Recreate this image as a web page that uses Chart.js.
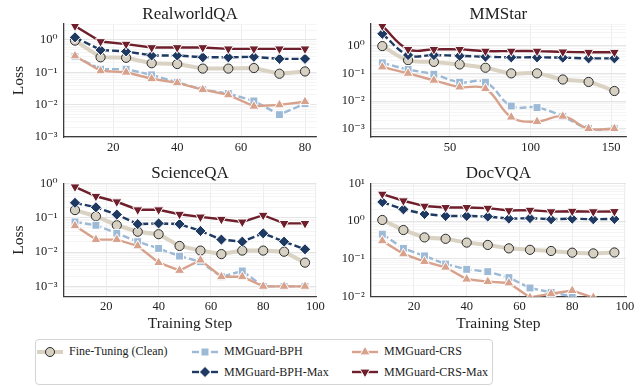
<!DOCTYPE html>
<html><head><meta charset="utf-8">
<script src="https://cdn.jsdelivr.net/npm/chart.js@4.4.1/dist/chart.umd.min.js"></script>
<style>
html,body{margin:0;padding:0;background:#fff;}
body{width:643px;height:386px;position:relative;overflow:hidden;font-family:'Liberation Serif','Times New Roman','DejaVu Serif',serif;}
canvas{position:absolute;}
#legendBox{position:absolute;left:35px;top:339px;width:458px;height:46px;border:1px solid #d4d4d4;border-radius:4px;box-sizing:border-box;background:#fff;}
.item{position:absolute;height:16px;display:flex;align-items:center;font-size:12px;color:#222;white-space:nowrap;}
.item svg{margin-right:6px;flex:none;}
</style></head>
<body>
<div id="legendBox"></div>
<script>
// ---------- data ----------
const steps8to80   = [8,16,24,32,40,48,56,64,72,80];
const stepsMMStar  = [8,24,40,56,72,88,104,120,136,152];
const steps8to96   = [8,16,24,32,40,48,56,64,72,80,88,96];

const seriesNames = ['Fine-Tuning (Clean)','MMGuard-BPH','MMGuard-CRS','MMGuard-BPH-Max','MMGuard-CRS-Max'];

// RealworldQA
const rwqaFT     = [0.95,0.29,0.28,0.19,0.18,0.13,0.13,0.135,0.09,0.106];
const rwqaBPH    = [0.31,0.125,0.125,0.083,0.049,0.029,0.022,0.013,0.0049,0.0107];
const rwqaCRS    = [0.32,0.11,0.10,0.063,0.047,0.029,0.020,0.0089,0.0098,0.0123];
const rwqaBPHMax = [1.2,0.49,0.44,0.33,0.33,0.29,0.29,0.30,0.26,0.26];
const rwqaCRSMax = [2.7,0.89,0.74,0.58,0.58,0.58,0.53,0.53,0.53,0.53];

// MMStar
const mmsFT     = [0.97,0.30,0.26,0.21,0.16,0.10,0.10,0.060,0.049,0.023];
const mmsBPH    = [0.24,0.138,0.093,0.048,0.048,0.0066,0.0058,0.0028,0.001,0.001];
const mmsCRS    = [0.17,0.10,0.056,0.032,0.028,0.0026,0.0018,0.0028,0.001,0.001];
const mmsBPHMax = [2.7,0.46,0.46,0.43,0.40,0.38,0.38,0.37,0.35,0.35];
const mmsCRSMax = [5.2,0.74,0.74,0.74,0.64,0.64,0.64,0.60,0.58,0.58];

// ScienceQA
const sqaFT     = [0.166,0.11,0.06,0.039,0.033,0.015,0.011,0.0087,0.011,0.011,0.0102,0.0049];
const sqaBPH    = [0.075,0.06,0.035,0.02,0.0127,0.0076,0.0052,0.0019,0.0028,0.001,0.001,0.001];
const sqaCRS    = [0.058,0.023,0.023,0.015,0.0049,0.0029,0.0058,0.0019,0.0019,0.001,0.001,0.001];
const sqaBPHMax = [0.27,0.2,0.123,0.065,0.068,0.065,0.041,0.023,0.02,0.035,0.02,0.012];
const sqaCRSMax = [0.79,0.42,0.29,0.17,0.17,0.126,0.105,0.09,0.075,0.118,0.068,0.068];

// DocVQA
const dvqaFT     = [1.07,0.58,0.37,0.34,0.27,0.234,0.19,0.174,0.162,0.146,0.14,0.148];
const dvqaBPH    = [0.45,0.19,0.12,0.073,0.053,0.046,0.032,0.017,0.013,0.0102,0.0075,0.0055];
const dvqaCRS    = [0.30,0.135,0.085,0.06,0.029,0.025,0.023,0.0095,0.012,0.0145,0.0095,0.006];
const dvqaBPHMax = [3.2,2.05,1.54,1.37,1.37,1.32,1.16,1.2,1.12,1.16,1.12,1.14];
const dvqaCRSMax = [5.2,3.46,2.5,2.3,2.3,2.2,1.9,1.95,1.78,1.83,1.78,1.8];

const xTicks20 = [20,40,60,80];
const xTicks20to100 = [20,40,60,80,100];
const xTicks50 = [50,100,150];

// ---------- styles ----------
const SERIF = "'Liberation Serif','Times New Roman','DejaVu Serif',serif";
const STYLE = [
  {line:'#dad2c3', fill:'#d7d1c3', edge:'#2a2a2a', lw:4,   dash:[],    shape:'circle',   r:4.6, ew:1,  order:5},
  {line:'#9cb9d6', fill:'#9cb9d6', edge:'#ffffff', lw:2.4, dash:[7,3], shape:'rect',     r:5.6, ew:1,  order:4},
  {line:'#d8a18b', fill:'#d8a18b', edge:'#ffffff', lw:2.4, dash:[],    shape:'triangle', r:5.8, ew:1,  order:3},
  {line:'#1e3a62', fill:'#1e3a62', edge:'#ffffff', lw:2.4, dash:[7,3], shape:'rectRot',  r:5.6, ew:1,  order:2},
  {line:'#6e1f2b', fill:'#6e1f2b', edge:'#ffffff', lw:2.4, dash:[],    shape:'triangle', r:5.8, ew:1,  order:1, rot:180}
];

const SUP = {'-':'\u207B','0':'\u2070','1':'\u00B9','2':'\u00B2','3':'\u00B3','4':'\u2074','5':'\u2075','6':'\u2076','7':'\u2077','8':'\u2078','9':'\u2079'};
function isDecade(v){ const e=Math.round(Math.log10(v)); return Math.abs(v/Math.pow(10,e)-1)<1e-6; }
function supLabel(v){ if(!isDecade(v)) return ''; const e=Math.round(Math.log10(v)); return '10'+String(e).split('').map(c=>SUP[c]).join(''); }
function logTicks(s){
  const t=[];
  for(let e=-4;e<=1;e++) for(let m=1;m<=9;m++){
    const v=m*Math.pow(10,e);
    if(v>=s.min*0.9999 && v<=s.max*1.0001) t.push({value:v});
  }
  s.ticks=t;
}

function panel(pos, title, steps, vals, opt){
  const cv=document.createElement('canvas');
  cv.width=pos.w; cv.height=pos.h;
  cv.style.left=pos.x+'px'; cv.style.top=pos.y+'px';
  cv.style.width=pos.w+'px'; cv.style.height=pos.h+'px';
  document.body.appendChild(cv);
  const datasets=STYLE.map((s,i)=>({
    label:seriesNames[i],
    data:steps.map((x,j)=>({x:x,y:vals[i][j]})),
    borderColor:s.line, backgroundColor:s.fill, borderWidth:s.lw, borderDash:s.dash,
    pointStyle:s.shape, pointRotation:s.rot||0, pointRadius:s.r, pointHoverRadius:s.r,
    pointBackgroundColor:s.fill, pointBorderColor:s.edge, pointBorderWidth:s.ew,
    tension:opt.tension||0, order:s.order, fill:false
  }));
  new Chart(cv,{
    type:'line',
    data:{datasets},
    options:{
      responsive:false, animation:false, devicePixelRatio:1,
      layout:{padding:{left:0,top:0,right:opt.pr,bottom:0}},
      plugins:{
        legend:{display:false}, tooltip:{enabled:false},
        title:{display:true,text:title,fullSize:false,color:'#222',
          font:{family:SERIF,size:17,weight:'normal',lineHeight:1},
          padding:{top:opt.tpt,bottom:0.8}}
      },
      scales:{
        x:{type:'linear',min:opt.xmin,max:opt.xmax,
          afterBuildTicks:s=>{s.ticks=opt.xticks.map(v=>({value:v}));},
          afterFit:s=>{s.height=opt.xh;},
          ticks:{autoSkip:false,maxRotation:0,padding:3,color:'#222',font:{family:SERIF,size:12.5}},
          grid:{color:'#e8e8e8',lineWidth:0.8,drawTicks:false},
          border:{display:true,color:'#3c3c3c',width:1.3},
          title:opt.xtitle?{display:true,text:'Training Step',color:'#222',font:{family:SERIF,size:15.5},padding:{top:0,bottom:2}}:{display:false}
        },
        y:{type:'logarithmic',min:opt.ymin,max:opt.ymax,
          afterBuildTicks:logTicks,
          afterFit:s=>{s.width=opt.yw;},
          ticks:{autoSkip:false,padding:6,color:'#222',font:{family:SERIF,size:12.5},callback:v=>supLabel(v)},
          grid:{color:c=>isDecade(c.tick.value)?'#e2e2e2':'#f1f1f1',lineWidth:c=>isDecade(c.tick.value)?0.9:0.7,drawTicks:false},
          border:{display:true,color:'#3c3c3c',width:1.3},
          title:opt.ytitle?{display:true,text:'Loss',color:'#222',font:{family:SERIF,size:15.5},padding:{top:9.7,bottom:0}}:{display:false}
        }
      }
    }
  });
}

panel({x:0,y:0,w:330,h:160},'RealworldQA',steps8to80,[rwqaFT,rwqaBPH,rwqaCRS,rwqaBPHMax,rwqaCRSMax],
  {pr:13.5,tpt:6.2,xh:23,yw:63.5,xmin:4.4,xmax:83.6,ymin:1e-3,ymax:3.1,xticks:xTicks20,ytitle:true});
panel({x:330,y:0,w:313,h:160},'MMStar',stepsMMStar,[mmsFT,mmsBPH,mmsCRS,mmsBPHMax,mmsCRSMax],
  {pr:17,tpt:6.2,xh:23,yw:40.7,xmin:0.8,xmax:159.2,ymin:5e-4,ymax:6.1,xticks:xTicks50,tension:0.4});
panel({x:0,y:160,w:330,h:175},'ScienceQA',steps8to96,[sqaFT,sqaBPH,sqaCRS,sqaBPHMax,sqaCRSMax],
  {pr:13.5,tpt:5.5,xh:38.3,yw:63.5,xmin:3.6,xmax:100.4,ymin:5e-4,ymax:1,xticks:xTicks20to100,ytitle:true,xtitle:true});
panel({x:330,y:160,w:313,h:175},'DocVQA',steps8to96,[dvqaFT,dvqaBPH,dvqaCRS,dvqaBPHMax,dvqaCRSMax],
  {pr:17,tpt:5.5,xh:38.3,yw:40.7,xmin:3.6,xmax:100.4,ymin:1e-2,ymax:10,xticks:xTicks20to100,xtitle:true});

// ---------- legend (HTML) ----------
const HANDLES = [
  '<line x1="0" y1="8" x2="26" y2="8" stroke="#dad2c3" stroke-width="4"/><circle cx="13" cy="8" r="4.5" fill="#d7d1c3" stroke="#2a2a2a" stroke-width="1"/>',
  '<line x1="0" y1="8" x2="7" y2="8" stroke="#9cb9d6" stroke-width="2.4"/><line x1="19" y1="8" x2="26" y2="8" stroke="#9cb9d6" stroke-width="2.4"/><rect x="9" y="4" width="8" height="8" fill="#9cb9d6" stroke="#fff" stroke-width="1"/>',
  '<line x1="0" y1="8" x2="26" y2="8" stroke="#d8a18b" stroke-width="2.4"/><polygon points="13,2.2 18.1,10.9 7.9,10.9" fill="#d8a18b" stroke="#fff" stroke-width="1"/>',
  '<line x1="0" y1="8" x2="7" y2="8" stroke="#1e3a62" stroke-width="2.4"/><line x1="19" y1="8" x2="26" y2="8" stroke="#1e3a62" stroke-width="2.4"/><polygon points="13,2.4 18.6,8 13,13.6 7.4,8" fill="#1e3a62" stroke="#fff" stroke-width="1"/>',
  '<line x1="0" y1="8" x2="26" y2="8" stroke="#6e1f2b" stroke-width="2.4"/><polygon points="13,13.8 7.9,5.1 18.1,5.1" fill="#6e1f2b" stroke="#fff" stroke-width="1"/>'
];
const LEGPOS = [[37,343.5],[192,343.5],[352,343.5],[192,364],[352,364]];
seriesNames.forEach((name,i)=>{
  const d=document.createElement('div');
  d.className='item';
  d.style.left=LEGPOS[i][0]+'px'; d.style.top=LEGPOS[i][1]+'px';
  d.innerHTML='<svg width="26" height="16" viewBox="0 0 26 16">'+HANDLES[i]+'</svg>';
  const sp=document.createElement('span'); sp.textContent=name; d.appendChild(sp);
  document.body.appendChild(d);
});
</script>
</body></html>
